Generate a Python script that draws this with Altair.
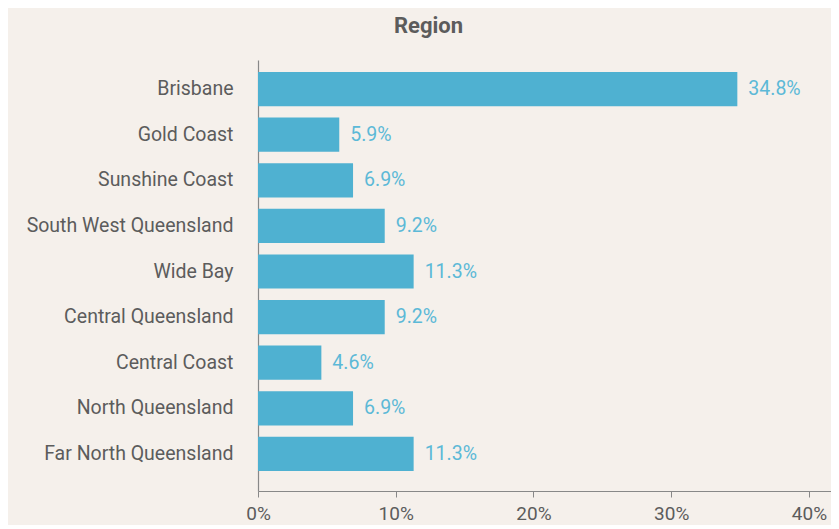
import altair as alt
import pandas as pd

regions = ["Brisbane", "Gold Coast", "Sunshine Coast", "South West Queensland", "Wide Bay",
           "Central Queensland", "Central Coast", "North Queensland", "Far North Queensland"]
values = [34.8, 5.9, 6.9, 9.2, 11.3, 9.2, 4.6, 6.9, 11.3]
x_ticks = [0, 10, 20, 30, 40]

df = pd.DataFrame({"region": regions, "value": values})
df["label"] = [f"{v:.1f}%" for v in values]

FONT = "Roboto"
BG = "#f5f0eb"
BAR = "#4fb1d1"
LBL = "#5cb9d7"
TXT = "#5c5c5c"
FS = 19.5

y_enc = alt.Y("region:N", sort=regions, title=None,
              scale=alt.Scale(paddingInner=0.25, paddingOuter=0.35, align=0.375),
              axis=alt.Axis(ticks=False, labelPadding=25, labelFontSize=FS, labelColor=TXT,
                            labelFont=FONT, labelLimit=400, domainColor="#888888",
                            domainWidth=1.2))
x_enc = alt.X("value:Q", title=None,
              scale=alt.Scale(domain=[0, 41.6], nice=False, zero=True),
              axis=alt.Axis(values=x_ticks, labelExpr="datum.value + '%'", grid=False,
                            tickSize=6, tickColor="#888888", domainColor="#888888",
                            domainWidth=1.2, labelFontSize=19, labelColor=TXT, labelFont=FONT,
                            labelPadding=7, labelFlush=False))

bars = alt.Chart(df).mark_bar(color=BAR).encode(x=x_enc, y=y_enc)
text = alt.Chart(df).mark_text(align="left", baseline="middle", dx=11, fontSize=FS,
                               font=FONT, color=LBL).encode(
    x=alt.X("value:Q"), y=alt.Y("region:N", sort=regions), text="label:N")

chart = (bars + text).properties(
    width=573, height=431,
    background=BG,
    autosize=alt.AutoSizeParams(type="none"),
    padding={"left": 250, "top": 52, "right": 0, "bottom": 34},
    title=alt.TitleParams("Region", anchor="middle", dx=-116, offset=22, fontSize=22,
                          font=FONT, fontWeight="bold", color=TXT),
).configure_view(stroke=None)

chart.save("out.html", embed_options={"renderer": "svg", "actions": False})
